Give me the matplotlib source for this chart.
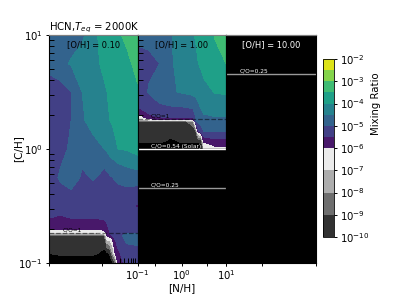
import numpy as np
import matplotlib
matplotlib.use("Agg")
import matplotlib.pyplot as plt

# [O/H] = 0.10
log_nh_1 = [-1, -0.75, -0.5, -0.25, 0, 0.25, 0.3125, 0.375, 0.4375, 0.5, 0.5625, 0.75, 1]
log_ch_1 = [-1, -0.915, -0.761, -0.739, -0.704, -0.608, -0.5, -0.25, 0, 0.25, 0.5, 0.75, 1]
log_hcn_1 = [
    [-10.5, -10.5, -10.5, -10.5, -10.5, -10.5, -10.5, -10.4, -10.1, -9.0, -5.9, -5.2, -5.2],
    [-10, -9.85, -9.85, -9.85, -9.85, -10.3, -10.2, -9.9, -8.0, -5.8, -5.55, -5.3, -5.2],
    [-9.3, -9.3, -9.3, -9.3, -9.3, -9.0, -5.9, -5.6, -5.45, -5.4, -5.3, -4.7, -4.7],
    [-7.3, -7.3, -7.3, -7.3, -7.3, -6.5, -5.7, -5.5, -5.4, -5.35, -5.3, -5.0, -5.0],
    [-5.98, -5.98, -5.98, -5.98, -5.98, -5.85, -5.6, -5.45, -5.35, -5.3, -5.27, -5.2, -5.2],
    [-5.5, -5.6, -5.5, -5.5, -5.5, -5.45, -5.4, -5.35, -5.32, -5.3, -5.28, -5.25, -5.3],
    [-5.25, -5.2, -5.2, -5.2, -5.3, -5.3, -5.3, -5.3, -5.3, -5.3, -5.33, -5.4, -5.55],
    [-5.15, -4.95, -4.8, -5.07, -4.95, -5.18, -5.12, -5.05, -5.0, -4.95, -4.87, -4.75, -4.7],
    [-5.3, -5.15, -4.9, -4.8, -4.65, -4.5, -4.4, -4.25, -4.15, -4.05, -4.0, -3.95, -3.75],
    [-5.3, -5.2, -5.0, -4.55, -4.3, -4.1, -4.05, -4.0, -3.95, -3.9, -3.85, -3.8, -3.7],
    [-5.55, -5.2, -5.0, -4.5, -4.3, -4.05, -4.0, -3.97, -3.93, -3.9, -3.83, -3.75, -3.55],
    [-4.55, -4.6, -4.45, -4.3, -4.1, -3.9, -3.88, -3.85, -3.83, -3.8, -3.7, -3.6, -3.35],
    [-4.85, -4.85, -4.8, -4.6, -4.05, -3.9, -3.85, -3.8, -3.75, -3.7, -3.55, -3.4, -3.2],
]

# [O/H] = 1.00
log_nh_2 = [-1, -0.75, -0.5, -0.25, 0, 0.25, 0.3125, 0.375, 0.4375, 0.5, 0.75, 1]
log_ch_2 = [-1, 0, 0.011, 0.029, 0.064, 0.152, 0.239, 0.26, 0.283, 0.371, 0.5, 0.75, 1]
log_hcn_2 = [
    [-12, -12, -12, -12, -12, -12, -12, -12, -12, -12, -12, -12],
    [-12, -12, -12, -12, -12, -12, -12, -12, -12, -12, -12, -12],
    [-11, -11, -11, -11, -11, -11, -11, -11, -11, -6.5, -6.3, -6.3],
    [-10.3, -10.3, -10.3, -10.3, -10.3, -10.3, -10.3, -10.3, -10.3, -7, -5.9, -5.9],
    [-9.9, -9.9, -9.9, -10.2, -9.9, -9.9, -9.9, -9.9, -9.7, -5.9, -5.7, -5.7],
    [-9.6, -9.6, -9.6, -9.6, -9.6, -9.6, -9.4, -5.6, -5.2, -5.0, -5.0, -5.0],
    [-9.3, -9.3, -9.3, -9.3, -9.3, -8.5, -5.2, -4.9, -4.85, -4.8, -4.8, -4.8],
    [-7, -6.1, -5.98, -5.98, -5.98, -5.9, -4.9, -4.8, -4.75, -4.7, -4.65, -4.65],
    [-6.3, -5.6, -5.45, -5.4, -5.3, -5.2, -5.0, -4.8, -4.7, -4.55, -4.5, -4.5],
    [-5.5, -5.25, -5.05, -5.02, -5.0, -4.95, -4.8, -4.6, -4.45, -4.35, -4.2, -4.2],
    [-5.25, -4.97, -4.8, -4.55, -4.45, -4.35, -4.3, -4.25, -4.17, -4.1, -3.98, -3.95],
    [-5.1, -5.1, -5.0, -4.55, -4.3, -4.1, -4.05, -4.0, -3.93, -3.85, -3.7, -3.5],
    [-4.92, -4.85, -4.8, -4.52, -4.3, -4.02, -3.98, -3.95, -3.9, -3.85, -3.45, -3.2],
]

# [O/H] = 10.00, everything under the colour scale
log_nh_3 = [-1, 1]
log_ch_3 = [-1, 1]
log_hcn_3 = [[-12, -12], [-12, -12]]

panel_titles = ["[O/H] = 0.10", "[O/H] = 1.00", "[O/H] = 10.00"]
title_colors = ["black", "black", "white"]

# (panel, C/H, label, colour, style, text colour)
co_lines = [
    (0, 0.183, "C/O=1", "black", "--", "black"),
    (1, 1.83, "C/O=1", "black", "--", "black"),
    (1, 1.0, "C/O=0.54 (Solar)", "white", "-", "white"),
    (1, 0.458, "C/O=0.25", "#999999", "-", "white"),
    (2, 4.58, "C/O=0.25", "#999999", "-", "white"),
]

levels = [-10, -9, -8, -7, -6, -5.5, -5, -4.5, -4, -3.5, -3, -2.5, -2]
colors = ["#323232", "#6e6e6e", "#adadad", "#ebebeb",
          "#48186a", "#424086", "#33638d", "#26828e",
          "#1fa088", "#3fbc73", "#84d44b", "#dde318"]
cbar_ticks = [-10, -9, -8, -7, -6, -5, -4, -3, -2]

bottom_ticks = [[0.1, 1.55], [0.1, 0.25, 1, 3.7, 10], [0.1, 0.63, 10]]
minor_x = [4, 5, 6, 7, 8, 9]
minor_y = [0.2, 0.3, 0.4, 0.5, 0.6, 0.7, 0.8, 0.9,
           2, 3, 4, 5, 6, 7, 8, 9]

W, H = 394, 296
fig = plt.figure(figsize=(W / 100, H / 100), dpi=100)

lefts = [49, 137.5, 226]
widths = [88.5, 88.5, 90]
grids = [(log_nh_1, log_ch_1, log_hcn_1), (log_nh_2, log_ch_2, log_hcn_2), (log_nh_3, log_ch_3, log_hcn_3)]

axes = []
for i in range(3):
    ax = fig.add_axes([lefts[i] / W, (H - 263) / H, widths[i] / W, 228 / H])
    ax.set_facecolor("black")
    nh = 10.0 ** np.array(grids[i][0])
    ch = 10.0 ** np.array(grids[i][1])
    cs = ax.contourf(nh, ch, np.array(grids[i][2]), levels=levels, colors=colors)
    ax.set_xscale("log")
    ax.set_yscale("log")
    ax.set_xlim(0.1, 10)
    ax.set_ylim(0.1, 10)
    ax.set_xticks(bottom_ticks[i])
    ax.set_xticks(minor_x, minor=True)
    ax.set_yticks([0.1, 1, 10])
    ax.set_yticks(minor_y, minor=True)
    ax.xaxis.set_minor_formatter(matplotlib.ticker.NullFormatter())
    ax.yaxis.set_minor_formatter(matplotlib.ticker.NullFormatter())
    ax.tick_params(axis="x", which="major", direction="out", length=2.5, width=0.7, labelsize=7.3, pad=1)
    ax.tick_params(axis="x", which="minor", direction="in", length=3.5, width=0.7)
    ax.tick_params(axis="y", which="minor", direction="in", length=3.3, width=0.7)
    ax.tick_params(axis="y", which="major", direction="out", length=2.5, width=0.7, labelsize=7.3, pad=2)
    if i > 0:
        ax.tick_params(axis="y", which="major", length=0, labelleft=False)
    top = ax.secondary_xaxis("top")
    top.set_xticks([1])
    top.set_xticklabels([])
    top.xaxis.set_minor_locator(matplotlib.ticker.NullLocator())
    top.tick_params(axis="x", which="major", direction="in", length=4.5, width=0.7)
    top.spines["top"].set_color("#808080")
    for s in ax.spines.values():
        s.set_linewidth(0.8)
    ax.spines["top"].set_color("#808080")
    ax.text(0.5, 0.956, panel_titles[i], transform=ax.transAxes, ha="center", va="center",
            fontsize=6, color=title_colors[i])
    axes.append(ax)

axes[0].set_xticklabels([])
axes[2].set_xticklabels([])
axes[1].set_xticklabels(["$\\mathdefault{10^{-1}}$", "", "$\\mathdefault{10^{0}}$", "",
                         "$\\mathdefault{10^{1}}$"])
axes[1].set_xlabel("[N/H]", fontsize=7.5, labelpad=1)
axes[0].set_ylabel("[C/H]", fontsize=7.5, labelpad=-4)
axes[0].set_title("HCN,$T_{eq}$ = 2000K", fontsize=7.3, loc="left", pad=2)

for panel, ch_val, label, col, style, tcol in co_lines:
    ax = axes[panel]
    if style == "--":
        ax.axhline(ch_val, color=col, ls=style, lw=0.9, alpha=0.5)
    else:
        ax.axhline(ch_val, color=col, ls=style, lw=1.0)
    ax.text(0.2, ch_val * 1.01, label, fontsize=4.2, color=tcol, ha="left", va="bottom")

cax = fig.add_axes([323 / W, (H - 237) / H, 11 / W, 178 / H])
cbar = fig.colorbar(cs, cax=cax, ticks=cbar_ticks, spacing="proportional")
cbar.ax.set_yticklabels(["$\\mathdefault{10^{%d}}$" % t for t in cbar_ticks])
cbar.ax.tick_params(labelsize=7.3, length=2.5, width=0.7, pad=2)
cbar.ax.minorticks_off()
cbar.set_label("Mixing Ratio", fontsize=7.3)
cbar.ax.yaxis.set_label_coords(4.35, 0.75)
cbar.outline.set_linewidth(0.6)

plt.savefig("out.png", dpi=100)
